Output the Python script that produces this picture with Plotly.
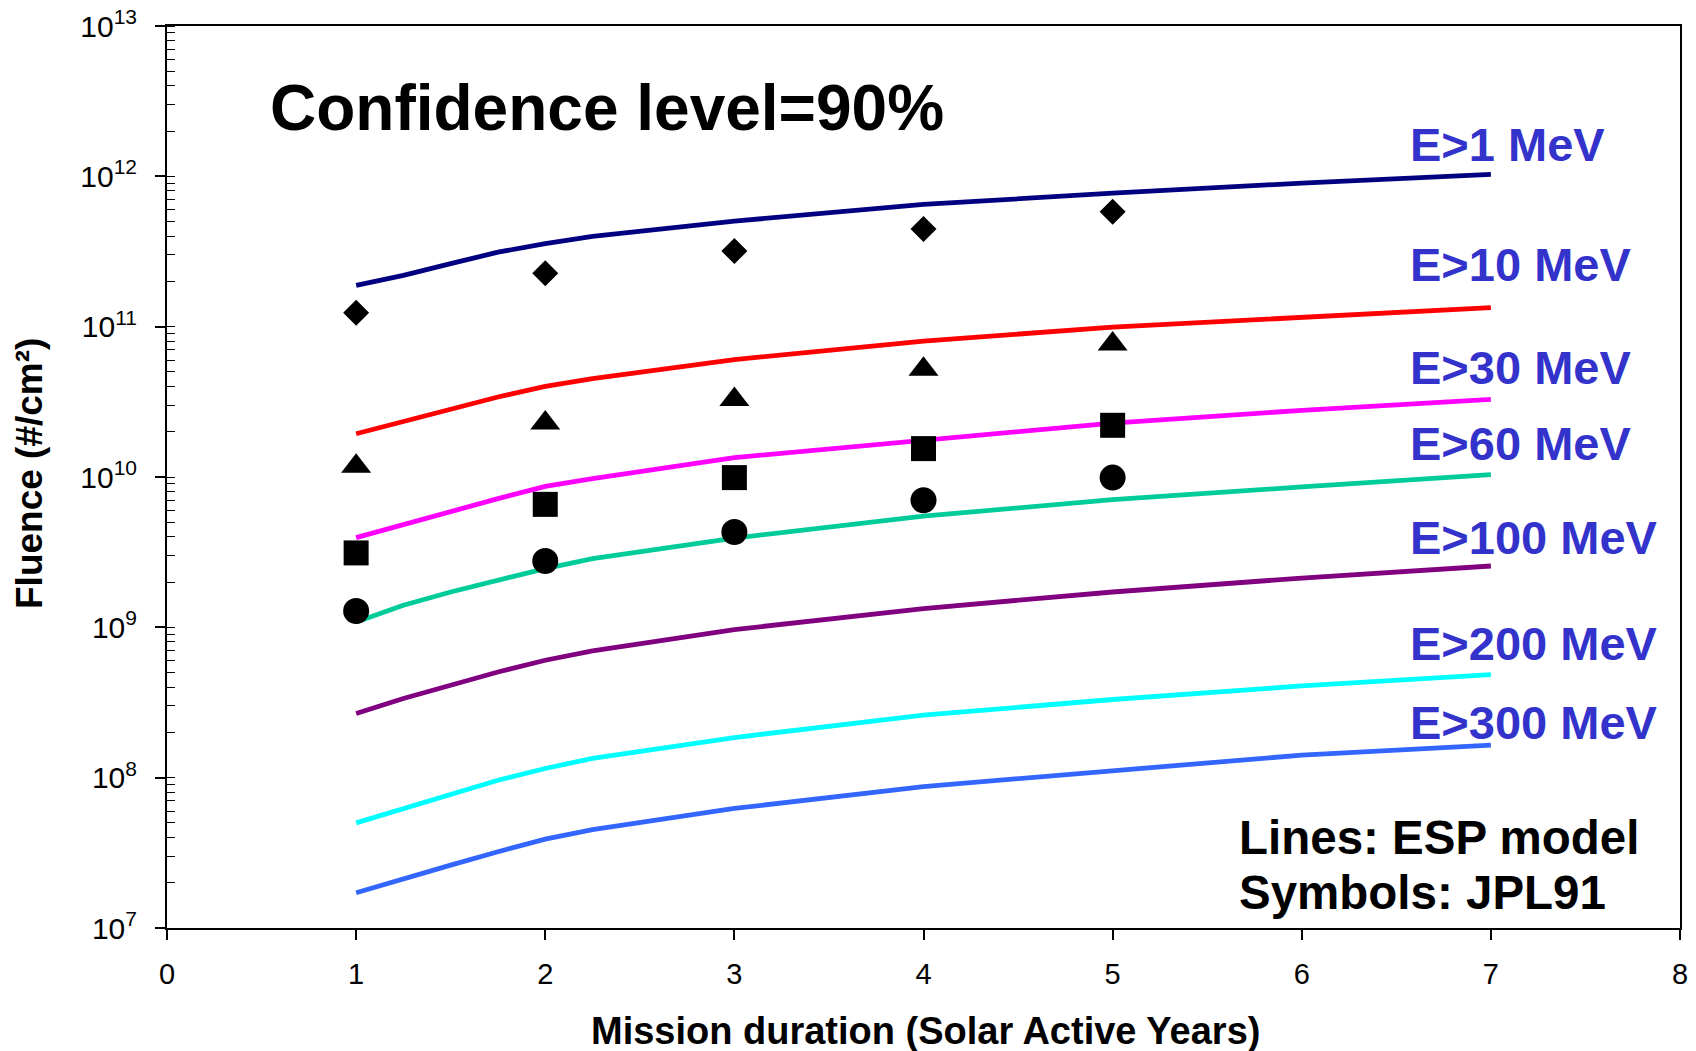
import plotly.graph_objects as go

# Mission duration (solar active years) at which the ESP model curves are evaluated
years_model = [1, 1.25, 1.5, 1.75, 2, 2.25, 3, 4, 5, 6, 7]

# ESP model fluence (#/cm^2), 90% confidence level
esp_1mev = [1.884e11, 2.193e11, 2.624e11, 3.133e11, 3.565e11, 3.981e11, 5.035e11, 6.501e11, 7.727e11, 9.016e11, 1.030e12]
esp_10mev = [1.941e10, 2.344e10, 2.851e10, 3.404e10, 4.009e10, 4.508e10, 6.039e10, 8.017e10, 9.931e10, 1.159e11, 1.340e11]
esp_30mev = [3.954e9, 4.842e9, 5.848e9, 7.178e9, 8.670e9, 9.750e9, 1.346e10, 1.754e10, 2.286e10, 2.773e10, 3.281e10]
esp_60mev = [1.086e9, 1.403e9, 1.718e9, 2.056e9, 2.460e9, 2.864e9, 3.926e9, 5.483e9, 7.079e9, 8.590e9, 1.038e10]
esp_100mev = [2.673e8, 3.365e8, 4.121e8, 5.047e8, 6.039e8, 6.966e8, 9.661e8, 1.334e9, 1.718e9, 2.128e9, 2.559e9]
esp_200mev = [5.000e7, 6.237e7, 7.727e7, 9.616e7, 1.151e8, 1.343e8, 1.849e8, 2.606e8, 3.311e8, 4.074e8, 4.853e8]
esp_300mev = [1.714e7, 2.138e7, 2.618e7, 3.214e7, 3.899e7, 4.519e7, 6.237e7, 8.730e7, 1.109e8, 1.413e8, 1.644e8]

# JPL91 model fluence (#/cm^2)
years_jpl = [1, 2, 3, 4, 5]
jpl_1mev = [1.239e11, 2.270e11, 3.184e11, 4.457e11, 5.821e11]
jpl_10mev = [1.178e10, 2.286e10, 3.273e10, 5.200e10, 7.656e10]
jpl_30mev = [3.126e9, 6.577e9, 9.908e9, 1.545e10, 2.208e10]
jpl_60mev = [1.285e9, 2.761e9, 4.305e9, 6.998e9, 9.908e9]

energy_labels = ["E>1 MeV", "E>10 MeV", "E>30 MeV", "E>60 MeV", "E>100 MeV", "E>200 MeV", "E>300 MeV"]
x_ticks = [0, 1, 2, 3, 4, 5, 6, 7, 8]
y_ticks = [1e7, 1e8, 1e9, 1e10, 1e11, 1e12, 1e13]
y_ticktext = ["10<sup>7</sup>", "10<sup>8</sup>", "10<sup>9</sup>", "10<sup>10</sup>",
              "10<sup>11</sup>", "10<sup>12</sup>", "10<sup>13</sup>"]

FONT = "Liberation Sans, Arial, sans-serif"
line_colors = ["#000080", "#FF0000", "#FF00FF", "#00CC99", "#800080", "#00FFFF", "#3366FF"]
esp_series = [esp_1mev, esp_10mev, esp_30mev, esp_60mev, esp_100mev, esp_200mev, esp_300mev]

fig = go.Figure()

for name, vals, col in zip(energy_labels, esp_series, line_colors):
    fig.add_trace(go.Scatter(
        x=years_model, y=vals, mode="lines", name=name,
        line=dict(color=col, width=4.8), showlegend=False,
    ))

jpl_series = [
    (jpl_1mev, "diamond", 20),
    (jpl_10mev, "triangle-up", 26),
    (jpl_30mev, "square", 25),
    (jpl_60mev, "circle", 26),
]
for vals, sym, size in jpl_series:
    fig.add_trace(go.Scatter(
        x=years_jpl, y=vals, mode="markers", showlegend=False,
        marker=dict(symbol=sym, size=size, color="black", line=dict(width=0)),
    ))

# plot area: x 167..1680 px, y 26..928 px
L, R, T, B = 167, 16, 26, 123
W, H = 1696, 1051
pw, ph = W - L - R, H - T - B


def px(xp):
    return (xp - L) / pw


def py(yp):
    return (H - B - yp) / ph


annotations = []
# energy labels next to the curves
label_rows = [144, 264.7, 367.4, 443.3, 537.5, 643.5, 722.3]
for text, yc in zip(energy_labels, label_rows):
    annotations.append(dict(
        text=text, x=px(1408), y=py(yc), xref="paper", yref="paper",
        xanchor="left", yanchor="middle", showarrow=False,
        font=dict(family=FONT, size=47, color="#3333CC", weight="bold"),
    ))

annotations += [
    dict(text="Confidence level=90%", x=px(268), y=py(108), xref="paper", yref="paper",
         xanchor="left", yanchor="middle", showarrow=False,
         font=dict(family=FONT, size=64, color="black", weight="bold")),
    dict(text="Lines: ESP model", x=px(1237), y=py(837), xref="paper", yref="paper",
         xanchor="left", yanchor="middle", showarrow=False,
         font=dict(family=FONT, size=47.5, color="black", weight="bold")),
    dict(text="Symbols: JPL91", x=px(1237), y=py(892), xref="paper", yref="paper",
         xanchor="left", yanchor="middle", showarrow=False,
         font=dict(family=FONT, size=47.5, color="black", weight="bold")),
    dict(text="Mission duration (Solar Active Years)", x=px(925), y=py(1031),
         xref="paper", yref="paper", xanchor="center", yanchor="middle", showarrow=False,
         font=dict(family=FONT, size=38, color="black", weight="bold")),
    dict(text="Fluence (#/cm²)", x=px(29), y=py(474), xref="paper", yref="paper",
         xanchor="center", yanchor="middle", showarrow=False, textangle=-90,
         font=dict(family=FONT, size=37, color="black", weight="bold")),
]

fig.update_layout(
    width=W, height=H,
    margin=dict(l=L, r=R, t=T, b=B, autoexpand=False),
    paper_bgcolor="white", plot_bgcolor="white",
    font=dict(family=FONT, color="black"),
    annotations=annotations,
    showlegend=False,
)

fig.update_xaxes(
    range=[0, 8], tickvals=x_ticks, ticktext=[str(v) for v in x_ticks],
    ticks="outside", ticklen=10, tickwidth=1.5, tickcolor="black",
    showline=True, linecolor="black", linewidth=2, mirror=True,
    showgrid=False, zeroline=False,
    tickfont=dict(family=FONT, size=29, color="black"),
    ticklabelstandoff=9,
)

fig.update_yaxes(
    type="log", range=[7, 13], tickvals=y_ticks, ticktext=y_ticktext,
    ticks="outside", ticklen=10, tickwidth=1.5, tickcolor="black",
    minor=dict(ticks="inside", ticklen=8, tickwidth=1.2, tickcolor="black", dtick="D1", showgrid=False),
    showline=True, linecolor="black", linewidth=2, mirror=True,
    showgrid=False, zeroline=False,
    tickfont=dict(family=FONT, size=30, color="black"),
    ticklabelstandoff=12,
)

fig.write_html("out.html")
